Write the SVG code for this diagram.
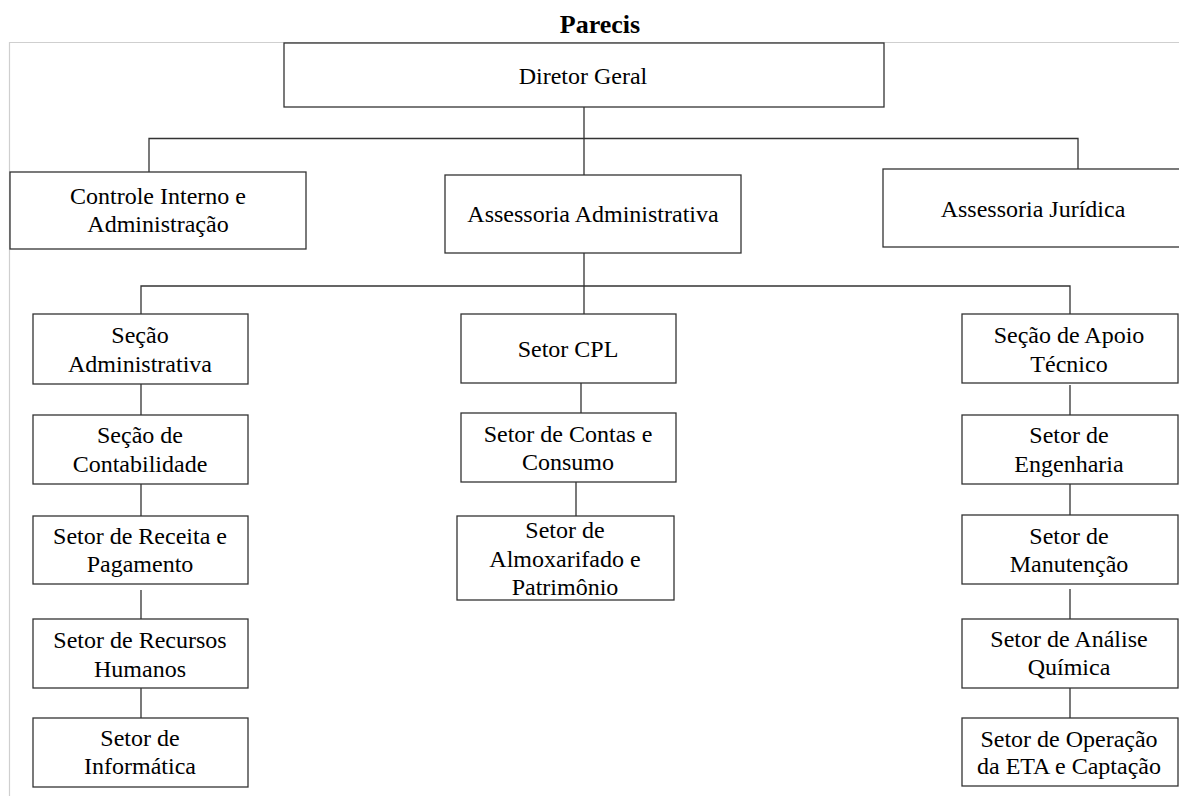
<svg xmlns="http://www.w3.org/2000/svg" width="1179" height="796" viewBox="0 0 1179 796">
<style>
.b{fill:#fff;stroke:#333;stroke-width:1.3}
.c{fill:none;stroke:#333;stroke-width:1.3}
.t{font-family:"Liberation Serif","Times New Roman",serif;font-size:24px;fill:#000;text-anchor:middle}
.h{font-family:"Liberation Serif","Times New Roman",serif;font-size:26px;font-weight:bold;fill:#000;text-anchor:middle}
</style>
<rect width="1179" height="796" fill="#fff"/>
<path d="M9.5 796V42.5H1179" fill="none" stroke="#cfcfcf" stroke-width="1.2"/>
<text class="h" x="600" y="33">Parecis</text>
<g id="connectors">
<path class="c" d="M584 107V175M149 172V138.5H1078V169"/>
<path class="c" d="M584 253V314M141 314V286H1070V314"/>
<path class="c" d="M141 384V415M141 484V516M141 590V619M141 688V718"/>
<path class="c" d="M581 383V413M576 482V516"/>
<path class="c" d="M1070 385V415M1070 484V515M1070 589V619M1070 688V718"/>
</g>
<g id="diretor"><rect class="b" x="284" y="43" width="600" height="64"/><text class="t" x="583" y="84">Diretor Geral</text></g>
<g id="controle"><rect class="b" x="10" y="172" width="296" height="77"/><text class="t" x="158" y="204">Controle Interno e</text><text class="t" x="158" y="232">Administração</text></g>
<g id="assessoria-adm"><rect class="b" x="445" y="175" width="296" height="78"/><text class="t" x="593" y="222">Assessoria Administrativa</text></g>
<g id="assessoria-jur"><rect class="b" x="883" y="169" width="310" height="78"/><text class="t" x="1033" y="217">Assessoria Jurídica</text></g>
<g id="secao-adm"><rect class="b" x="33" y="314" width="215" height="70"/><text class="t" x="140" y="343">Seção</text><text class="t" x="140" y="372">Administrativa</text></g>
<g id="contabilidade"><rect class="b" x="33" y="415" width="215" height="69"/><text class="t" x="140" y="443">Seção de</text><text class="t" x="140" y="472">Contabilidade</text></g>
<g id="receita"><rect class="b" x="33" y="516" width="215" height="68"/><text class="t" x="140" y="544">Setor de Receita e</text><text class="t" x="140" y="572">Pagamento</text></g>
<g id="rh"><rect class="b" x="33" y="619" width="215" height="69"/><text class="t" x="140" y="648">Setor de Recursos</text><text class="t" x="140" y="677">Humanos</text></g>
<g id="informatica"><rect class="b" x="33" y="718" width="215" height="69"/><text class="t" x="140" y="746">Setor de</text><text class="t" x="140" y="774">Informática</text></g>
<g id="cpl"><rect class="b" x="461" y="314" width="215" height="69"/><text class="t" x="568" y="357">Setor CPL</text></g>
<g id="contas"><rect class="b" x="461" y="413" width="215" height="69"/><text class="t" x="568" y="442">Setor de Contas e</text><text class="t" x="568" y="470">Consumo</text></g>
<g id="almoxarifado"><rect class="b" x="457" y="516" width="217" height="84"/><text class="t" x="565" y="538">Setor de</text><text class="t" x="565" y="567">Almoxarifado e</text><text class="t" x="565" y="595">Patrimônio</text></g>
<g id="apoio"><rect class="b" x="962" y="314" width="216" height="69"/><text class="t" x="1069" y="343">Seção de Apoio</text><text class="t" x="1069" y="372">Técnico</text></g>
<g id="engenharia"><rect class="b" x="962" y="415" width="216" height="69"/><text class="t" x="1069" y="443">Setor de</text><text class="t" x="1069" y="472">Engenharia</text></g>
<g id="manutencao"><rect class="b" x="962" y="515" width="216" height="69"/><text class="t" x="1069" y="544">Setor de</text><text class="t" x="1069" y="572">Manutenção</text></g>
<g id="analise"><rect class="b" x="962" y="619" width="216" height="69"/><text class="t" x="1069" y="647">Setor de Análise</text><text class="t" x="1069" y="675">Química</text></g>
<g id="operacao"><rect class="b" x="962" y="718" width="216" height="68"/><text class="t" x="1069" y="747">Setor de Operação</text><text class="t" x="1069" y="774">da ETA e Captação</text></g>
</svg>
